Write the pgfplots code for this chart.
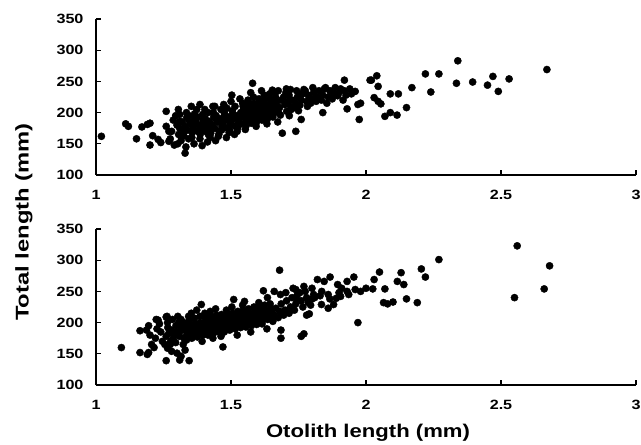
\documentclass[border=0pt]{standalone}
\usepackage{fontspec}
\setmainfont{Liberation Sans}
\usepackage{graphicx}
\usepackage{pgfplots}
\pgfplotsset{compat=1.18}
\pgfplotsset{panel/.style={
  scale only axis, width=540bp, height=156bp,
  xmin=1, xmax=3, ymin=100, ymax=350,
  axis lines=left, axis line style={-, line width=1.4bp},
  xtick={1,1.5,2,2.5,3},
  ytick={100,150,200,250,300,350},
  tick align=inside, major tick length=5bp,
  tick style={line width=1.2bp, black},
  /pgf/number format/assume math mode=true,
  ticklabel style={font=\bfseries\fontsize{13.5}{14}\selectfont},
  xticklabel style={yshift=-12bp},
  yticklabel style={xshift=-9bp},
  xticklabel={\scalebox{1.2}[1]{\pgfmathprintnumber{\tick}}},
  yticklabel={\scalebox{1.2}[1]{\pgfmathprintnumber{\tick}}},
  clip=false,
}}
\pgfplotsset{dots/.style={only marks, mark=*, mark size=3.6bp, mark options={fill=black, draw=black}}}
\begin{document}
\begin{tikzpicture}
\useasboundingbox (-96bp,-60bp) rectangle (545bp,385bp);
\begin{axis}[panel, at={(0bp,210bp)}, anchor=south west]
\addplot[dots] coordinates {
(1.02,162) (1.12,178) (1.11,182) (1.15,158) (1.17,177) (1.19,181) (1.20,183) (1.20,148) (1.21,163) (1.23,157) (1.24,152) (1.26,202) (1.26,178) (1.27,170) (1.27,154) (1.29,148) (1.31,197) (1.31,186) (1.33,135) (1.58,247) (1.385,213) (1.44,210) (1.50,218) (1.69,167) (1.74,170) (1.76,189) (1.72,237) (1.77,237) (1.85,240) (1.92,252) (1.84,200) (1.93,206) (1.96,234) (1.97,213) (1.975,189) (2.015,252) (1.98,215) (2.02,252) (2.04,259) (2.045,242) (2.03,224) (2.045,218) (2.055,214) (2.09,230) (2.12,230) (2.07,194) (2.09,200) (2.115,196) (2.15,208) (2.17,240) (2.22,262) (2.27,262) (2.24,233) (2.34,283) (2.335,247) (2.395,249) (2.45,244) (2.47,258) (2.49,234) (2.53,254) (2.67,269)
(1.28,170) (1.286,188) (1.275,158)
(1.30,180) (1.306,165) (1.295,195) (1.303,150)
(1.31,175) (1.316,160) (1.305,205)
(1.32,185) (1.326,170) (1.315,155)
(1.33,178) (1.336,192) (1.325,163) (1.333,145)
(1.34,172) (1.346,186) (1.335,200) (1.343,158)
(1.35,182) (1.356,168) (1.345,195) (1.353,210)
(1.36,176) (1.366,190) (1.355,160) (1.363,150)
(1.37,185) (1.376,170) (1.365,198) (1.373,205)
(1.38,180) (1.386,165) (1.375,193)
(1.39,175) (1.396,188) (1.385,158) (1.393,147)
(1.40,183) (1.406,170) (1.395,197) (1.403,205)
(1.41,178) (1.416,165) (1.405,190) (1.413,153)
(1.42,186) (1.426,172) (1.415,200) (1.423,160)
(1.43,180) (1.436,193) (1.425,167) (1.433,210)
(1.44,175) (1.446,188) (1.435,200) (1.443,155)
(1.45,185) (1.456,170) (1.445,195) (1.453,162)
(1.46,190) (1.466,178) (1.455,165) (1.463,205)
(1.47,182) (1.476,196) (1.465,172) (1.473,213)
(1.48,188) (1.486,175) (1.475,200) (1.483,160)
(1.49,193) (1.496,180) (1.485,207) (1.493,168)
(1.50,185) (1.506,198) (1.495,172) (1.503,228)
(1.51,190) (1.516,178) (1.505,203) (1.513,165)
(1.52,195) (1.526,182) (1.515,210) (1.523,170)
(1.53,188) (1.536,200) (1.525,176) (1.533,222)
(1.54,193) (1.546,205) (1.535,182) (1.543,215)
(1.55,198) (1.556,186) (1.545,210) (1.553,173)
(1.56,192) (1.566,205) (1.555,178) (1.563,220)
(1.57,200) (1.576,188) (1.565,212) (1.573,232)
(1.58,195) (1.586,208) (1.575,183) (1.583,225)
(1.59,202) (1.596,190) (1.585,215) (1.593,178)
(1.60,198) (1.606,210) (1.595,185) (1.603,222)
(1.61,205) (1.616,192) (1.605,217) (1.613,235)
(1.62,200) (1.626,212) (1.615,188) (1.623,228)
(1.63,207) (1.636,195) (1.625,220) (1.633,182)
(1.64,203) (1.646,215) (1.635,190) (1.643,230)
(1.65,210) (1.656,198) (1.645,222) (1.653,236)
(1.66,205) (1.666,218) (1.655,193) (1.663,232)
(1.67,212) (1.676,200) (1.665,225) (1.673,185)
(1.68,208) (1.686,220) (1.675,235) (1.683,196)
(1.70,213) (1.706,202) (1.695,225) (1.703,232)
(1.71,218) (1.716,195) (1.705,238)
(1.72,210) (1.726,220) (1.715,228) (1.723,205)
(1.74,215) (1.746,225) (1.735,208) (1.743,235)
(1.75,203) (1.756,230)
(1.76,220) (1.766,230) (1.755,212)
(1.78,218) (1.786,228) (1.775,235) (1.783,210)
(1.80,222) (1.806,232) (1.795,215) (1.803,240)
(1.82,225) (1.826,235) (1.815,218)
(1.84,228) (1.846,238) (1.835,220)
(1.86,225) (1.866,235) (1.855,215)
(1.88,230) (1.886,240) (1.875,222)
(1.90,232) (1.906,238) (1.895,227)
(1.92,235) (1.926,228) (1.915,220)
(1.94,238) (1.946,230)
};
\end{axis}
\begin{axis}[panel, at={(0bp,0bp)}, anchor=south west]
\addplot[dots] coordinates {
(1.094,160) (1.163,152) (1.19,149) (1.195,152) (1.163,187) (1.187,188) (1.26,139) (1.31,140) (1.345,139) (1.23,204) (1.26,209) (1.265,159) (1.28,154) (1.30,151) (1.315,146) (1.33,156) (1.39,229) (1.51,237) (1.55,234) (1.47,161) (1.68,284) (1.62,251) (1.66,250) (1.685,175) (1.685,188) (1.76,178) (1.77,182) (1.78,212) (1.79,214) (1.73,255) (1.74,253) (1.77,258) (1.80,255) (1.82,269) (1.845,266) (1.867,273) (1.81,240) (1.835,229) (1.86,223) (1.88,229) (1.89,239) (1.895,261) (1.91,255) (1.93,266) (1.955,273) (1.96,253) (2.0,255) (1.97,200) (1.98,250) (2.025,254) (2.03,269) (2.05,281) (2.07,254) (2.065,232) (2.08,230) (2.10,233) (2.116,266) (2.13,280) (2.14,261) (2.15,238) (2.19,232) (2.205,286) (2.22,273) (2.27,301) (2.56,323) (2.55,240) (2.66,254) (2.68,291)
(1.20,180) (1.206,165) (1.195,195)
(1.22,175) (1.226,190) (1.215,160) (1.223,205)
(1.24,185) (1.246,170) (1.235,198)
(1.26,178) (1.266,192) (1.255,165) (1.263,210)
(1.27,183) (1.276,170) (1.265,200)
(1.28,188) (1.286,175) (1.275,165) (1.283,205)
(1.29,180) (1.296,195) (1.285,172)
(1.30,185) (1.306,200) (1.295,168) (1.303,210)
(1.31,178) (1.316,192) (1.305,183)
(1.32,188) (1.326,175) (1.315,205) (1.323,165)
(1.33,193) (1.336,180) (1.325,200)
(1.34,185) (1.346,197) (1.335,172) (1.343,210)
(1.35,190) (1.356,178) (1.345,203) (1.353,215)
(1.36,185) (1.366,198) (1.355,175)
(1.37,193) (1.376,180) (1.365,207) (1.373,220)
(1.38,188) (1.386,200) (1.375,177) (1.383,195)
(1.39,195) (1.396,183) (1.385,210) (1.393,170)
(1.40,190) (1.406,203) (1.395,180) (1.403,215)
(1.41,197) (1.416,185) (1.405,208)
(1.42,192) (1.426,205) (1.415,180) (1.423,218)
(1.43,198) (1.436,187) (1.425,210) (1.433,175)
(1.44,193) (1.446,205) (1.435,183) (1.443,222)
(1.45,200) (1.456,188) (1.445,212)
(1.46,195) (1.466,207) (1.455,185) (1.463,178)
(1.47,200) (1.476,190) (1.465,213)
(1.48,197) (1.486,208) (1.475,185) (1.483,220)
(1.49,203) (1.496,192) (1.485,215)
(1.50,198) (1.506,210) (1.495,188) (1.503,225)
(1.51,205) (1.516,193) (1.505,215)
(1.52,200) (1.526,212) (1.515,190) (1.523,180)
(1.53,207) (1.536,196) (1.525,218)
(1.54,202) (1.546,213) (1.535,192) (1.543,228)
(1.55,208) (1.556,198) (1.545,220)
(1.56,203) (1.566,215) (1.555,193)
(1.57,210) (1.576,200) (1.565,222) (1.573,185)
(1.58,205) (1.586,217) (1.575,195)
(1.59,212) (1.596,202) (1.585,225)
(1.60,207) (1.606,218) (1.595,197) (1.603,232)
(1.61,213) (1.616,203) (1.605,225)
(1.62,208) (1.626,220) (1.615,198)
(1.63,215) (1.636,205) (1.625,228) (1.633,190)
(1.64,210) (1.646,222) (1.635,240)
(1.65,217) (1.656,207) (1.645,230)
(1.66,212) (1.666,223) (1.655,202)
(1.68,218) (1.686,230) (1.675,208) (1.683,245)
(1.70,220) (1.706,235) (1.695,212) (1.703,248)
(1.72,225) (1.726,240) (1.715,215)
(1.74,230) (1.746,245) (1.735,220) (1.743,238)
(1.76,235) (1.766,225) (1.755,248)
(1.78,240) (1.786,232) (1.775,250)
(1.80,238) (1.806,245) (1.795,228)
(1.83,243) (1.836,250)
(1.86,245) (1.866,238)
(1.90,248) (1.906,242)
(1.93,250) (1.936,245)
};
\end{axis}
\node[rotate=90, font=\bfseries\fontsize{18.5}{20}\selectfont] at (-72bp,163bp) {\scalebox{1.29}[1]{Total length (mm)}};
\node[font=\bfseries\fontsize{18.5}{20}\selectfont] at (272bp,-48bp) {\scalebox{1.2}[1]{Otolith length (mm)}};
\end{tikzpicture}
\end{document}
